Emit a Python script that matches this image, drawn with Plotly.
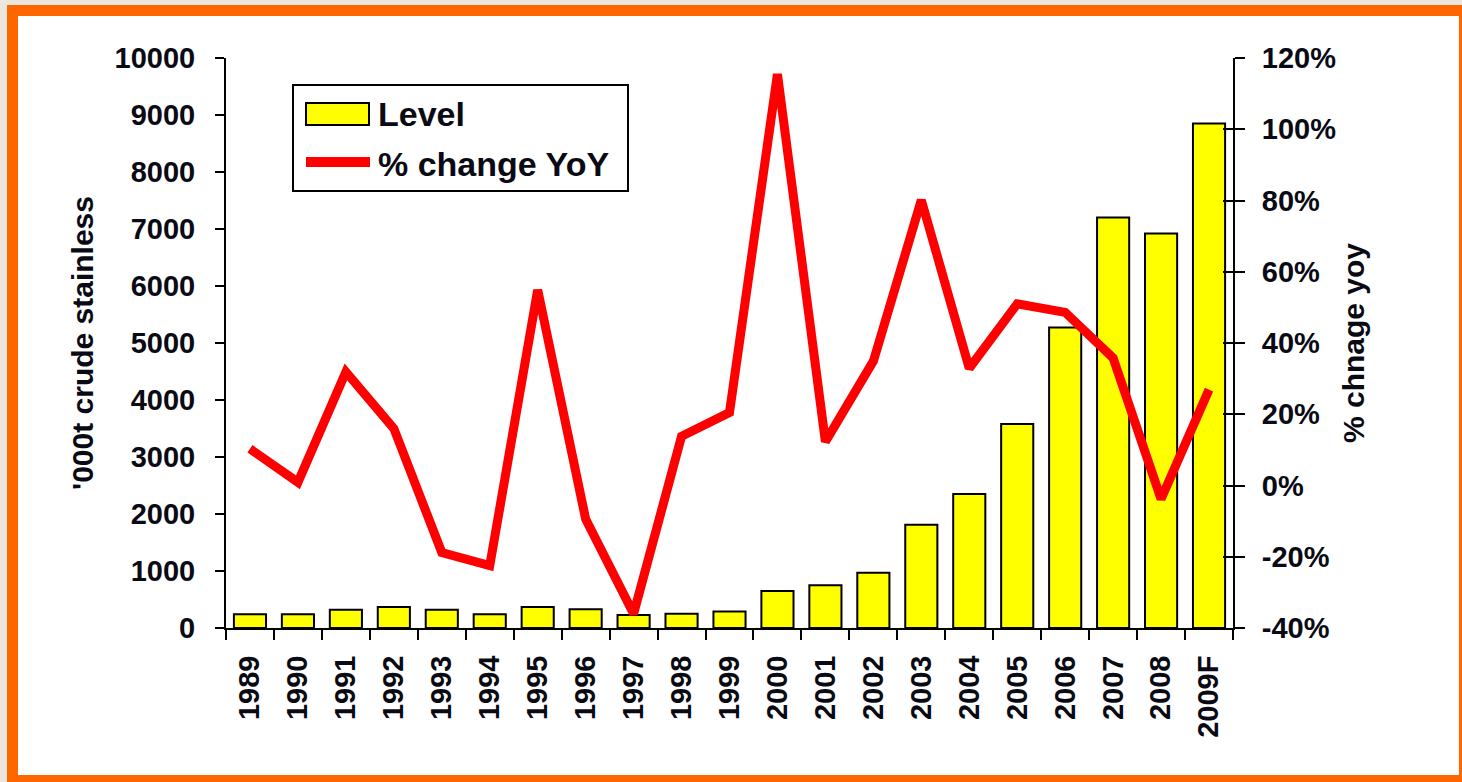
import plotly.graph_objects as go

# ---------------- data ----------------
years = ["1989", "1990", "1991", "1992", "1993", "1994", "1995", "1996", "1997", "1998",
         "1999", "2000", "2001", "2002", "2003", "2004", "2005", "2006", "2007", "2008", "2009F"]
level = [240, 240, 320, 370, 320, 240, 370, 330, 230, 250,
         290, 650, 750, 970, 1810, 2350, 3580, 5270, 7200, 6920, 8850]
yoy_pct = [10.3, 0.9, 31.9, 16.0, -18.8, -22.5, 54.9, -9.4, -36.0, 13.8,
           20.5, 115.5, 12.3, 34.9, 80.1, 32.9, 51.0, 48.6, 35.8, -3.8, 26.9]
left_ticks = list(range(0, 10001, 1000))
left_tick_labels = [str(v) for v in left_ticks]
right_ticks = list(range(-40, 121, 20))
right_tick_labels = [f"{v}%" for v in right_ticks]

legend_labels = ["Level", "% change YoY"]
left_title = "'000t crude stainless"
right_title = "% chnage yoy"

# ---------------- layout constants ----------------
W, H = 1462, 782
PL, PR, PT, PB = 226, 1233, 58, 628   # plot area in pixels
FONT = "Liberation Sans, Arial, sans-serif"
TXT = "#0a0a14"


def xp(px):
    return (px - PL) / (PR - PL)


def yp(py):
    return (PB - py) / (PB - PT)


fig = go.Figure()

fig.add_trace(go.Bar(
    x=years, y=level, name=legend_labels[0], yaxis="y",
    marker=dict(color="#FFFF00", line=dict(color="#000000", width=2)),
    showlegend=False,
))
fig.add_trace(go.Scatter(
    x=years, y=yoy_pct, name=legend_labels[1], yaxis="y2", mode="lines",
    line=dict(color="#FF0000", width=9),
    showlegend=False,
))
# helper trace so that the crossing (inside) right-axis ticks are drawn
fig.add_trace(go.Scatter(x=[years[0]], y=[None], yaxis="y3", mode="lines",
                         showlegend=False, hoverinfo="skip"))

tickfont = dict(family=FONT, size=29, color=TXT, weight="bold")
titlefont = dict(family=FONT, size=30, color=TXT, weight="bold")

shapes = [
    # page frame: orange border around white card
    dict(type="rect", xref="paper", yref="paper", layer="below",
         x0=xp(7), x1=xp(1480), y0=yp(800), y1=yp(5),
         fillcolor="#FF6600", line=dict(width=0)),
    dict(type="rect", xref="paper", yref="paper", layer="below",
         x0=xp(18), x1=xp(1459), y0=yp(775), y1=yp(16),
         fillcolor="#FFFFFF", line=dict(width=0)),
    # legend box
    dict(type="rect", xref="paper", yref="paper",
         x0=xp(293), x1=xp(628), y0=yp(191), y1=yp(85),
         fillcolor="#FFFFFF", line=dict(color="#000000", width=2)),
    dict(type="rect", xref="paper", yref="paper",
         x0=xp(306), x1=xp(369), y0=yp(125), y1=yp(103),
         fillcolor="#FFFF00", line=dict(color="#000000", width=2)),
    dict(type="line", xref="paper", yref="paper",
         x0=xp(306), x1=xp(370), y0=yp(162), y1=yp(162),
         line=dict(color="#FF0000", width=10)),
]

annotations = [
    dict(xref="paper", yref="paper", x=xp(376), y=yp(114), text=legend_labels[0],
         showarrow=False, xanchor="left", yanchor="middle",
         font=dict(family=FONT, size=34, color=TXT, weight="bold")),
    dict(xref="paper", yref="paper", x=xp(376), y=yp(164), text=legend_labels[1],
         showarrow=False, xanchor="left", yanchor="middle",
         font=dict(family=FONT, size=34, color=TXT, weight="bold")),
]

fig.update_layout(
    width=W, height=H, autosize=False,
    margin=dict(l=PL, r=W - PR, t=PT, b=H - PB, pad=0),
    paper_bgcolor="#ECE6DE",
    plot_bgcolor="#FFFFFF",
    bargap=0.33,
    showlegend=False,
    shapes=shapes,
    annotations=annotations,
    xaxis=dict(
        type="category", tickangle=-90, tickfont=tickfont,
        showline=True, linecolor="#000000", linewidth=2,
        ticks="outside", ticklen=10, tickwidth=2, tickcolor="#000000",
        tickson="boundaries", ticklabelstandoff=14,
        showgrid=False, zeroline=False, fixedrange=True,
    ),
    yaxis=dict(
        range=[0, 10000], tickvals=left_ticks, ticktext=left_tick_labels,
        tickfont=tickfont,
        showline=True, linecolor="#000000", linewidth=2,
        ticks="outside", ticklen=9, tickwidth=2, tickcolor="#000000",
        ticklabelstandoff=14,
        showgrid=False, zeroline=False,
        title=dict(text=left_title, font=titlefont, standoff=12),
    ),
    yaxis2=dict(
        overlaying="y", side="right", anchor="x",
        range=[-40, 120], tickvals=right_ticks, ticktext=right_tick_labels,
        tickfont=tickfont,
        showline=True, linecolor="#000000", linewidth=2,
        ticks="outside", ticklen=10, tickwidth=2, tickcolor="#000000",
        ticklabelstandoff=11,
        showgrid=False, zeroline=False,
        title=dict(text=right_title, font=titlefont, standoff=8),
    ),
    yaxis3=dict(
        overlaying="y", side="right", anchor="x",
        range=[-40, 120], tickvals=right_ticks,
        showticklabels=False, showline=False,
        ticks="inside", ticklen=10, tickwidth=2, tickcolor="#000000",
        showgrid=False, zeroline=False,
    ),
)

fig.write_html("out.html", config={"displayModeBar": False},
               post_script="document.body.style.margin='0';document.body.style.overflow='hidden';")
